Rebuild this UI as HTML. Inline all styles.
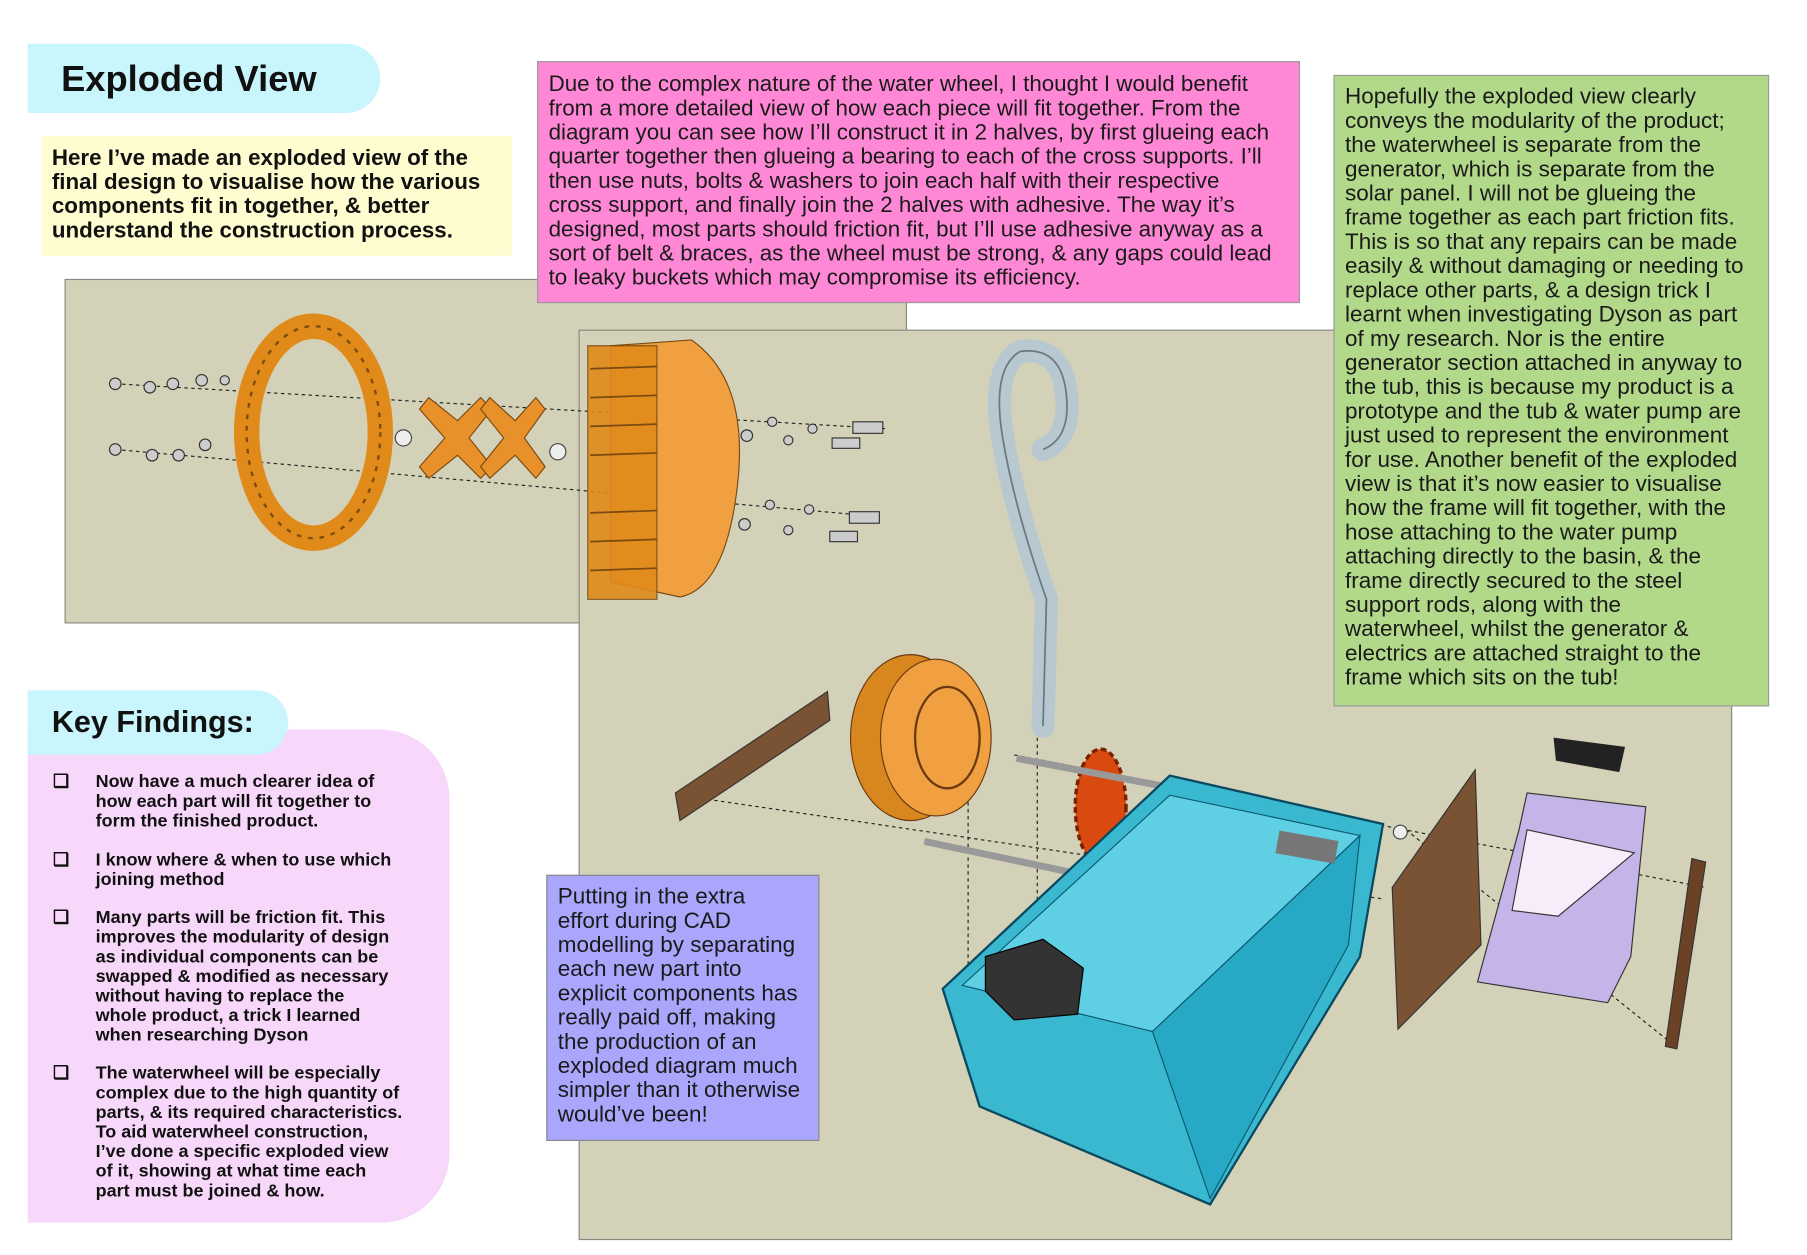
<!DOCTYPE html>
<html><head><meta charset="utf-8"><style>
html,body{margin:0;padding:0;background:#fff;}
#wrap{width:1807px;height:1255px;overflow:hidden;position:relative;}
#c{position:absolute;left:0;top:0;width:1568px;height:1090px;transform:scale(1.1525);transform-origin:0 0;font-family:"Liberation Sans",sans-serif;color:#1a1a1a;}
.a{position:absolute;box-sizing:border-box;}
.t{white-space:nowrap;}
</style></head><body><div id="wrap"><div id="c">

<div class="a" style="left:24px;top:38px;width:306px;height:60px;background:#c9f5fc;border-radius:0 30px 30px 0;"></div>
<div class="a t" style="left:53px;top:50px;font-size:31.5px;font-weight:bold;color:#111;">Exploded View</div>

<div class="a t" style="left:36px;top:118px;width:408px;height:104px;background:#fffdd0;padding:9px 0 0 9px;font-size:19.4px;font-weight:bold;line-height:21px;color:#111;">Here I’ve made an exploded view of the<br>final design to visualise how the various<br>components fit in together, &amp; better<br>understand the construction process.</div>

<div class="a" style="left:56px;top:242px;width:731px;height:299px;background:#d3d1b8;border:1px solid #8a8a80;"></div>
<div class="a" style="left:502px;top:286px;width:1001px;height:790px;background:#d3d1b8;border:1px solid #8a8a80;"></div>

<svg class="a" style="left:0;top:0" width="1560" height="1084">
<g stroke="#222" stroke-width="1" stroke-dasharray="3,3" fill="none">
<line x1="100" y1="333" x2="770" y2="372"/><line x1="100" y1="390" x2="760" y2="448"/>
<line x1="590" y1="690" x2="1200" y2="780"/><line x1="880" y1="655" x2="1480" y2="770"/>
<line x1="1220" y1="720" x2="1450" y2="905"/><line x1="840" y1="690" x2="840" y2="880"/><line x1="900" y1="640" x2="900" y2="880"/>
</g>
<ellipse cx="272" cy="375" rx="58" ry="92" fill="none" stroke="#e08a1a" stroke-width="22"/>
<ellipse cx="272" cy="375" rx="58" ry="92" fill="none" stroke="#7a4a10" stroke-width="2" stroke-dasharray="4,6"/>
<path d="M372 345 l25 20 l20-20 l10 10 l-20 25 l20 25 l-10 10 l-20-20 l-25 20 l-8-10 l22-25 l-22-25z" fill="#e8902a" stroke="#7a4a10"/>
<path d="M425 345 l22 20 l18-20 l8 10 l-18 25 l18 25 l-8 10 l-18-20 l-22 20 l-8-10 l20-25 l-20-25z" fill="#e8902a" stroke="#7a4a10"/>
<circle cx="350" cy="380" r="7" fill="#eee" stroke="#444"/><circle cx="484" cy="392" r="7" fill="#eee" stroke="#444"/>
<path d="M530 300 L600 295 Q650 330 640 420 Q630 510 590 518 L530 505 Z" fill="#f0a040" stroke="#7a4a10"/>
<path d="M510 300 h60 v220 h-60z" fill="#e08a1a" stroke="#7a4a10" opacity="0.9"/>
<g stroke="#7a4a10" stroke-width="1.5"><line x1="512" y1="320" x2="570" y2="318"/><line x1="512" y1="345" x2="570" y2="343"/><line x1="512" y1="370" x2="570" y2="368"/><line x1="512" y1="395" x2="570" y2="393"/><line x1="512" y1="445" x2="570" y2="443"/><line x1="512" y1="470" x2="570" y2="468"/><line x1="512" y1="495" x2="570" y2="493"/></g>
<g fill="#ccc" stroke="#333">
<circle cx="100" cy="333" r="5"/><circle cx="130" cy="336" r="5"/><circle cx="150" cy="333" r="5"/><circle cx="175" cy="330" r="5"/><circle cx="195" cy="330" r="4"/>
<circle cx="100" cy="390" r="5"/><circle cx="132" cy="395" r="5"/><circle cx="155" cy="395" r="5"/><circle cx="178" cy="386" r="5"/>
<circle cx="670" cy="366" r="4"/><circle cx="705" cy="372" r="4"/><rect x="722" y="380" width="24" height="9"/><rect x="740" y="366" width="26" height="10"/>
<circle cx="668" cy="438" r="4"/><circle cx="702" cy="442" r="4"/><rect x="720" y="461" width="24" height="9"/><rect x="737" y="444" width="26" height="10"/>
<circle cx="648" cy="378" r="5"/><circle cx="646" cy="455" r="5"/><circle cx="684" cy="382" r="4"/><circle cx="684" cy="460" r="4"/>
</g>
<path d="M905 630 L908 520 Q880 440 870 380 Q860 320 885 305 Q920 300 925 340 Q930 380 905 390" fill="none" stroke="#b8c8d0" stroke-width="20" stroke-linecap="round"/>
<path d="M905 630 L908 520 Q880 440 870 380 Q860 320 885 305 Q920 300 925 340 Q930 380 905 390" fill="none" stroke="#6a7880" stroke-width="1.5"/>
<path d="M586 688 L718 600 L720 625 L590 712 Z" fill="#7a5234" stroke="#333"/>
<ellipse cx="790" cy="640" rx="52" ry="72" fill="#d8861e" stroke="#6a3a10"/>
<ellipse cx="812" cy="640" rx="48" ry="68" fill="#f0a040" stroke="#6a3a10"/>
<ellipse cx="822" cy="640" rx="28" ry="44" fill="none" stroke="#6a3a10" stroke-width="2"/>
<ellipse cx="955" cy="700" rx="22" ry="50" fill="#d84a10" stroke="#7a2000" stroke-width="3" stroke-dasharray="5,3"/>
<line x1="882" y1="658" x2="1188" y2="716" stroke="#999" stroke-width="6"/>
<line x1="802" y1="730" x2="1134" y2="800" stroke="#999" stroke-width="6"/>
<path d="M818 858 L1015 673 L1200 715 L1180 830 L1050 1045 L850 960 Z" fill="#3ab8d0" stroke="#0a4a60" stroke-width="2"/>
<path d="M835 855 L1015 690 L1180 725 L1000 895 Z" fill="#5fd0e4" stroke="#0a5a70"/>
<path d="M1000 895 L1180 725 L1170 820 L1050 1040 Z" fill="#27a8c4" stroke="#0a5a70"/>
<rect x="1108" y="725" width="52" height="20" fill="#777" transform="rotate(10 1134 735)"/>
<path d="M855 830 L905 815 L940 840 L935 880 L880 885 L855 860 Z" fill="#333" stroke="#000"/>
<circle cx="1215" cy="722" r="6" fill="#eee" stroke="#444"/>
<path d="M1208 770 L1280 668 L1285 820 L1213 893 Z" fill="#7a5234" stroke="#333"/>
<path d="M1348 640 L1410 648 L1405 670 L1350 660 Z" fill="#222"/>
<path d="M1325 688 L1428 700 L1415 830 L1395 870 L1282 852 L1318 720 Z" fill="#c4b4e8" stroke="#333"/>
<path d="M1325 720 L1418 740 L1352 795 L1312 790 Z" fill="#f6ecfa" stroke="#333"/>
<path d="M1468 745 L1480 748 L1455 910 L1445 908 Z" fill="#6b4226" stroke="#333"/>
</svg>

<div class="a t" style="left:466px;top:53px;width:662px;height:210px;background:#ff88d6;border:1px solid #999;padding:9px 0 0 9px;font-size:19.4px;line-height:21px;">Due to the complex nature of the water wheel, I thought I would benefit<br>from a more detailed view of how each piece will fit together. From the<br>diagram you can see how I’ll construct it in 2 halves, by first glueing each<br>quarter together then glueing a bearing to each of the cross supports. I’ll<br>then use nuts, bolts &amp; washers to join each half with their respective<br>cross support, and finally join the 2 halves with adhesive. The way it’s<br>designed, most parts should friction fit, but I’ll use adhesive anyway as a<br>sort of belt &amp; braces, as the wheel must be strong, &amp; any gaps could lead<br>to leaky buckets which may compromise its efficiency.</div>

<div class="a t" style="left:1157px;top:65px;width:378px;height:548px;background:#b2d98a;border:1px solid #999;padding:8px 0 0 9px;font-size:19.5px;line-height:21px;">Hopefully the exploded view clearly<br>conveys the modularity of the product;<br>the waterwheel is separate from the<br>generator, which is separate from the<br>solar panel. I will not be glueing the<br>frame together as each part friction fits.<br>This is so that any repairs can be made<br>easily &amp; without damaging or needing to<br>replace other parts, &amp; a design trick I<br>learnt when investigating Dyson as part<br>of my research. Nor is the entire<br>generator section attached in anyway to<br>the tub, this is because my product is a<br>prototype and the tub &amp; water pump are<br>just used to represent the environment<br>for use. Another benefit of the exploded<br>view is that it’s now easier to visualise<br>how the frame will fit together, with the<br>hose attaching to the water pump<br>attaching directly to the basin, &amp; the<br>frame directly secured to the steel<br>support rods, along with the<br>waterwheel, whilst the generator &amp;<br>electrics are attached straight to the<br>frame which sits on the tub!</div>

<div class="a t" style="left:474px;top:759px;width:237px;height:231px;background:#aaa6fb;border:1px solid #888;padding:8px 0 0 9px;font-size:19.5px;line-height:21px;">Putting in the extra<br>effort during CAD<br>modelling by separating<br>each new part into<br>explicit components has<br>really paid off, making<br>the production of an<br>exploded diagram much<br>simpler than it otherwise<br>would’ve been!</div>

<div class="a" style="left:24px;top:633px;width:366px;height:428px;background:#f8d8fa;border-radius:0 60px 60px 0;"></div>
<div class="a" style="left:24px;top:599px;width:226px;height:56px;background:#c9f5fc;border-radius:0 28px 28px 0;"></div>
<div class="a t" style="left:45px;top:611px;font-size:26.5px;font-weight:bold;color:#111;">Key Findings:</div>
<div class="a t" style="left:46px;top:670px;font-size:15.6px;font-weight:bold;line-height:17px;color:#111;">
<div style="position:relative;padding-left:37px;margin-bottom:17px;"><span style="position:absolute;left:0">❑</span>Now have a much clearer idea of<br>how each part will fit together to<br>form the finished product.</div>
<div style="position:relative;padding-left:37px;margin-bottom:16px;"><span style="position:absolute;left:0">❑</span>I know where &amp; when to use which<br>joining method</div>
<div style="position:relative;padding-left:37px;margin-bottom:16px;"><span style="position:absolute;left:0">❑</span>Many parts will be friction fit. This<br>improves the modularity of design<br>as individual components can be<br>swapped &amp; modified as necessary<br>without having to replace the<br>whole product, a trick I learned<br>when researching Dyson</div>
<div style="position:relative;padding-left:37px;"><span style="position:absolute;left:0">❑</span>The waterwheel will be especially<br>complex due to the high quantity of<br>parts, &amp; its required characteristics.<br>To aid waterwheel construction,<br>I’ve done a specific exploded view<br>of it, showing at what time each<br>part must be joined &amp; how.</div>
</div>

</div></div></body></html>
